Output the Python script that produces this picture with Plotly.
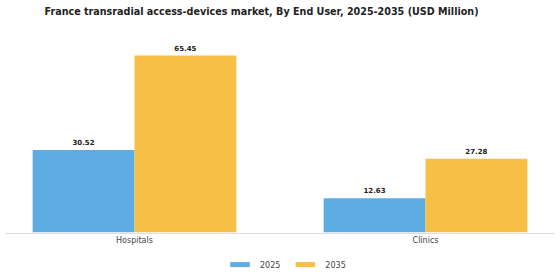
import plotly.graph_objects as go

categories = ["Hospitals", "Clinics"]
years = ["2025", "2035"]
values_2025 = [30.52, 12.63]
values_2035 = [65.45, 27.28]
colors = {"2025": "#5DADE3", "2035": "#F6C046"}

fig = go.Figure()
for yr, vals in zip(years, [values_2025, values_2035]):
    fig.add_trace(go.Bar(
        x=categories, y=vals, name=yr, showlegend=False,
        marker=dict(color=colors[yr], line=dict(width=0)),
        text=[f"{v:.2f}" for v in vals], textposition="outside",
        textfont=dict(family="DejaVu Sans", size=7, color="#222222", weight="bold"),
        cliponaxis=False,
    ))
# legend entries with wide rectangular swatches
for yr in years:
    fig.add_trace(go.Scatter(
        x=[None], y=[None], mode="markers", name=yr,
        marker=dict(symbol="line-ew", size=14, line=dict(color=colors[yr], width=5)),
    ))

fig.update_layout(
    width=560, height=280,
    margin=dict(l=5, r=5, t=40, b=43),
    paper_bgcolor="white", plot_bgcolor="white",
    barmode="group", bargap=0.3, bargroupgap=0,
    title=dict(text="<b>France transradial access-devices market, By End User, 2025-2035 (USD Million)</b>",
               x=0.467, xanchor="center", y=0.96, yanchor="middle",
               font=dict(family="DejaVu Sans", size=9.6, color="#222222")),
    xaxis=dict(range=[-0.445, 1.445], showline=True, linecolor="#dddddd", linewidth=1,
               ticks="", tickfont=dict(family="DejaVu Sans", size=8, color="#444444"),
               showgrid=False),
    yaxis=dict(range=[0, 71.2], visible=False, showgrid=False),
    legend=dict(orientation="h", x=0.51, xanchor="center", yref="container", y=0.055, yanchor="middle",
                itemwidth=30,
                font=dict(family="DejaVu Sans", size=8, color="#444444")),
    showlegend=True,
)
fig.write_html("out.html")
